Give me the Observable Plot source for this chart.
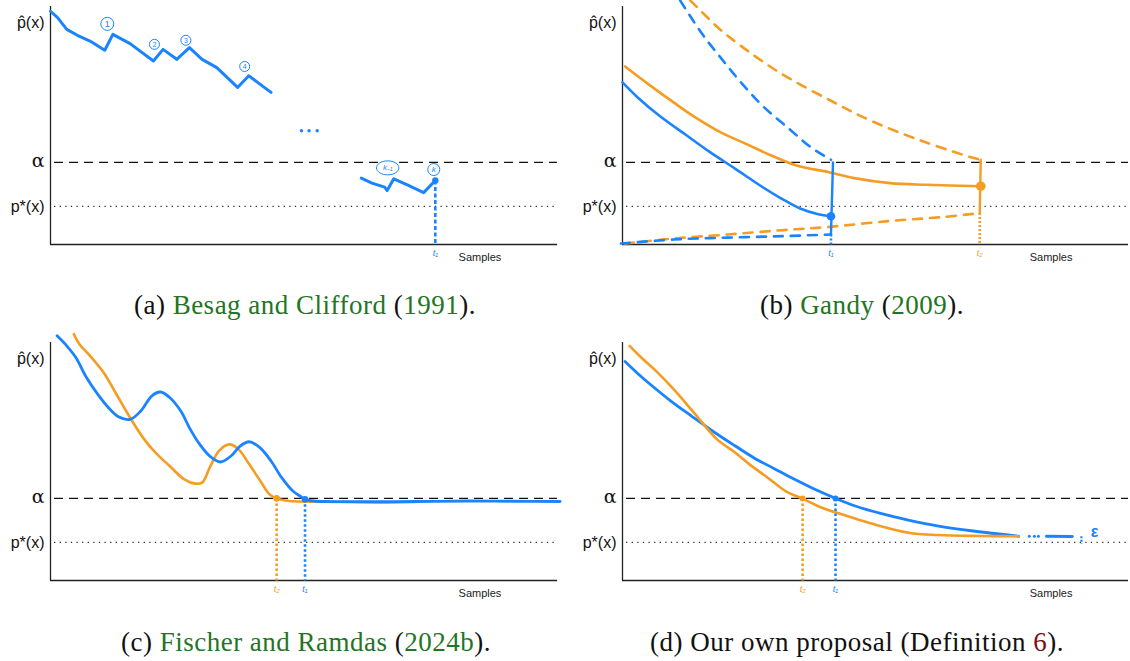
<!DOCTYPE html>
<html><head><meta charset="utf-8">
<script src="https://cdn.jsdelivr.net/npm/d3@7"></script>
<script src="https://cdn.jsdelivr.net/npm/@observablehq/plot@0.6"></script>
<style>
body{margin:0;background:#fff;}
#root{position:relative;width:1130px;height:661px;overflow:hidden;background:#fff;}
.panel{position:absolute;}
.cap{position:absolute;font-family:"Liberation Serif",serif;font-size:27px;letter-spacing:0.5px;white-space:nowrap;transform:translate(-50%,-50%);color:#111;}
.cite{color:#237523;}
.ref{color:#7a1010;}
</style></head><body><div id="root"></div>
<script>
// ---------- data (x: 0..100 along "Samples", y: 0..100 up the p-hat axis) ----------
const alphaLevel = 34.5;
const pStarLevel = 16.0;
const yLabelText = ["p\u0302(x)", "p*(x)"];
const yLabelY = [93, 16.0];
const alphaLabel = "\u03B1";
const samplesX = 84.7;

// (a) Besag and Clifford
const aSeg1 = [[0,98],[1.4,95.3],[3.2,90.4],[5.3,87.9],[7.8,85.5],[10.7,81.6],[12.3,88.3],[15.7,84.4],[20.3,77.1],[22.2,82.0],[24.9,77.8],[27.4,82.7],[29.9,77.8],[32.8,74.3],[36.9,66.0],[39.1,70.9],[41.3,67.4],[43.5,63.9]];
const aSeg2 = [[61.3,27.9],[63.4,25.8],[65.9,24.1],[66.4,22.7],[67.7,27.6],[70.6,24.8],[73.6,21.8],[75.9,26.9]];
const aMarkLabels = ["1","2","3","4"];
const aMarkX = [11.2, 20.5, 26.7, 38.3];
const aMarkY = [92.7, 84.1, 85.8, 74.8];
const aEllipsisX = [49.5, 51.0, 52.6];
const aEllipsisY = 47.8;
const aTagLabels = ["k\u208B\u2081", "k"];
const aTagX = [66.5, 75.6];
const aTagY = [32.2, 31.5];
const aT1 = 75.9, aT1Y = 26.9;

// (b) Gandy
const bBlue = [[0,68.1],[3.0,61.8],[7.3,54.1],[12.3,46.4],[17.3,38.8],[22.3,31.8],[27.2,24.8],[31.5,19.2],[35.1,15.1],[38.7,12.7],[41.1,11.9]];
const bBlueUpper = [[11.4,102.5],[15.8,88.3],[19.4,78.5],[23.7,67.4],[28.0,57.6],[33.0,48.5],[37.2,40.9],[41.2,35.6]];
const bBlueLower = [[-0.3,0.4],[10.1,2.1],[20.8,2.9],[31.5,3.5],[41.2,4.2]];
const bOrange = [[0.5,74.8],[5.1,67.4],[10.1,59.7],[14.4,53.4],[19.4,47.1],[24.4,42.3],[29.4,37.4],[34.4,33.2],[40.8,30.4],[45.8,27.9],[52.9,25.8],[60.1,25.1],[70.8,24.5]];
const bOrangeUpper = [[13.4,102.5],[15.4,98.3],[19.2,90.5],[23.3,83.6],[31.2,72.0],[41.1,60.5],[49.0,52.1],[58.9,43.7],[69.8,36.1],[71.0,35.6]];
const bOrangeLower = [[0.5,0.4],[10.1,2.5],[20.8,4.2],[31.5,6.0],[40.8,7.4],[52.9,9.9],[63.6,11.6],[70.6,13.2]];
const bT1 = 41.2, bT2 = 70.8;

// (c) Fischer and Ramdas
const cBlue = [[1.3,102.8],[3.2,98.6],[5.0,93.7],[7.1,85.3],[9.3,78.3],[11.4,72.7],[13.5,68.7],[15.7,67.7],[17.8,71.2],[20.0,77.6],[21.7,79.2],[23.5,76.9],[25.7,71.2],[27.4,64.2],[29.2,57.9],[31.4,52.3],[33.5,49.8],[35.6,52.3],[37.4,56.5],[39.2,58.3],[41.3,55.8],[43.5,50.2],[45.6,43.2],[47.8,37.6],[49.2,35.5],[50.2,34.1],[52.0,33.4],[61.3,33.1],[72.0,33.2],[82.7,33.4],[91.0,33.3],[100.5,33.2]];
const cOrange = [[4.6,103.5],[5.7,99.3],[7.8,94.4],[10.7,86.7],[12.8,79.0],[15.7,68.4],[18.5,59.3],[20.7,53.7],[23.5,48.1],[26.4,42.5],[28.5,40.7],[29.9,41.1],[31.4,47.4],[33.2,54.4],[35.3,57.2],[37.1,55.1],[39.2,48.8],[41.4,41.8],[43.2,36.2],[44.6,34.5],[47.1,33.4],[54.2,33.1],[64.9,32.7],[72.0,33.0]];
const cT1 = 50.2, cT2 = 44.6;

// (d) Our own proposal
const dBlue = [[0.5,92.0],[3.0,87.0],[6.0,81.5],[9.5,75.5],[13.7,69.0],[18.0,62.5],[22.3,56.5],[26.0,51.5],[30.0,47.0],[34.0,42.5],[38.0,38.3],[42.1,34.5],[46.0,31.3],[51.0,28.2],[56.5,25.4],[62.2,23.0],[69.3,20.8],[78.3,18.6]];
const dOrange = [[1.4,98.6],[3.7,93.7],[6.6,88.1],[10.1,80.4],[14.4,69.8],[18.7,59.3],[22.3,53.7],[25.1,48.8],[28.7,43.2],[32.2,37.6],[35.6,34.4],[39.4,30.6],[44.4,27.1],[49.4,23.8],[56.5,20.1],[62.2,19.1],[70.8,18.7],[78.3,18.6]];
const dT1 = 42.1, dT2 = 35.6;
const dMoreDotsX = [80.4, 81.4, 82.2];
const dMoreY = 18.6;
const dDash = [[83.8,18.6],[88.9,18.5]];
const dEps = {x: 90.7, top: 18.6, bottom: 15.4, labelX: 93.3, labelY: 20.3};

// ---------- styling ----------
const BLUE = "#1a84ff", ORANGE = "#f59c22";
const xy = {x: d => d[0], y: d => d[1]};

const ellipseSymbol = {
  draw(ctx, size) {
    const r = Math.sqrt(size / Math.PI), rx = r * 1.6, ry = r;
    const k = 0.5523;
    ctx.moveTo(rx, 0);
    ctx.bezierCurveTo(rx, ry * k, rx * k, ry, 0, ry);
    ctx.bezierCurveTo(-rx * k, ry, -rx, ry * k, -rx, 0);
    ctx.bezierCurveTo(-rx, -ry * k, -rx * k, -ry, 0, -ry);
    ctx.bezierCurveTo(rx * k, -ry, rx, -ry * k, rx, 0);
    ctx.closePath();
  }
};

function frame() {
  const labels = yLabelText.map((t, i) => ({t, y: yLabelY[i]}));
  return [
    Plot.ruleY([{y: alphaLevel, x1: 0.8, x2: 100}], {y: "y", x1: "x1", x2: "x2", stroke: "#111", strokeWidth: 1.3, strokeDasharray: "9,6"}),
    Plot.ruleY([{y: pStarLevel, x1: 0.8, x2: 100}], {y: "y", x1: "x1", x2: "x2", stroke: "#333", strokeWidth: 1.2, strokeDasharray: "1.3,4.3"}),
    Plot.ruleX([{x: 0, y1: 0, y2: 100}], {x: "x", y1: "y1", y2: "y2", stroke: "#222", strokeWidth: 1.3}),
    Plot.ruleY([{y: 0, x1: 0, x2: 100}], {y: "y", x1: "x1", x2: "x2", stroke: "#222", strokeWidth: 1.3}),
    Plot.text(labels, {x: 0, y: "y", text: "t", dx: -6, textAnchor: "end", fontSize: 16, fill: "#111"}),
    Plot.text([{y: alphaLevel, t: alphaLabel}], {x: 0, y: "y", text: "t", dx: -6, dy: -1, textAnchor: "end", fontSize: 19, fontFamily: "'DejaVu Serif', serif", fill: "#111"}),
    Plot.text([{x: samplesX, t: "Samples"}], {x: "x", y: 0, text: "t", dy: 13, fontSize: 11, fill: "#222"})
  ];
}

function drop(x, y, color, dash) {
  return Plot.line([[x, y], [x, 0]], {...xy, stroke: color, strokeWidth: 2.6, strokeLinecap: "butt", strokeDasharray: dash || "2.5,2.5"});
}
function tLabel(x, txt, color) {
  return Plot.text([{x, t: txt}], {x: "x", y: 0, text: "t", dy: 9, fontSize: 9, fill: color, fontStyle: "italic"});
}

function makePlot(marginLeft, marginRight, marks) {
  return Plot.plot({
    width: 565, height: 275,
    marginLeft, marginRight, marginTop: 6, marginBottom: 31,
    x: {domain: [0, 100], axis: null},
    y: {domain: [0, 100], axis: null},
    style: {background: "transparent", overflow: "visible", fontFamily: "'Liberation Sans', Arial, sans-serif"},
    marks
  });
}

// (a)
const aMarks = aMarkLabels.map((t, i) => ({t, x: aMarkX[i], y: aMarkY[i]}));
const aTags = aTagLabels.map((t, i) => ({t, x: aTagX[i], y: aTagY[i]}));
const plotA = makePlot(50, 8, [
  ...frame(),
  Plot.line(aSeg1, {...xy, stroke: BLUE, strokeWidth: 3, curve: "linear"}),
  Plot.line(aSeg2, {...xy, stroke: BLUE, strokeWidth: 3, curve: "linear"}),
  drop(aT1, aT1Y, BLUE, "4,2.5"),
  Plot.dot([[aT1, aT1Y]], {...xy, r: 3.2, fill: BLUE}),
  Plot.dot(aMarks.slice(0, 1), {x: "x", y: "y", r: 6.5, stroke: BLUE, strokeWidth: 1, fill: "white"}),
  Plot.dot(aMarks.slice(1), {x: "x", y: "y", r: 5, stroke: BLUE, strokeWidth: 1, fill: "white"}),
  Plot.text(aMarks.slice(0, 1), {x: "x", y: "y", text: "t", fontSize: 9, fill: BLUE}),
  Plot.text(aMarks.slice(1), {x: "x", y: "y", text: "t", fontSize: 7, fill: BLUE}),
  Plot.dot(aEllipsisX.map(x => [x, aEllipsisY]), {...xy, r: 1.7, fill: BLUE}),
  Plot.dot(aTags.slice(0, 1), {x: "x", y: "y", r: 7, symbol: ellipseSymbol, stroke: BLUE, strokeWidth: 1, fill: "white"}),
  Plot.dot(aTags.slice(1), {x: "x", y: "y", r: 6, stroke: BLUE, strokeWidth: 1, fill: "white"}),
  Plot.text(aTags, {x: "x", y: "y", text: "t", fontSize: 8, fill: BLUE, fontStyle: "italic"}),
  tLabel(aT1, "t\u2081", BLUE)
]);

const dashed = {strokeWidth: 2.6, strokeDasharray: "9,8", strokeLinecap: "round", curve: "catmull-rom"};
const plotB = makePlot(57, 2, [
  ...frame(),
  Plot.line(bOrangeUpper, {...xy, stroke: ORANGE, ...dashed}),
  Plot.line(bOrangeLower, {...xy, stroke: ORANGE, ...dashed}),
  Plot.line(bBlueUpper, {...xy, stroke: BLUE, ...dashed}),
  Plot.line(bBlueLower, {...xy, stroke: BLUE, ...dashed}),
  Plot.line(bOrange, {...xy, stroke: ORANGE, strokeWidth: 2.6, curve: "catmull-rom"}),
  Plot.line(bBlue, {...xy, stroke: BLUE, strokeWidth: 2.6, curve: "catmull-rom"}),
  Plot.line([[bT1 + 0.4, alphaLevel], [bT1, 4.2]], {...xy, stroke: BLUE, strokeWidth: 2.4}),
  drop(bT1, 4.2, BLUE, "2,2"),
  Plot.line([[bT2, 35.6], [bT2 - 0.2, 13.2]], {...xy, stroke: ORANGE, strokeWidth: 2.4}),
  drop(bT2 - 0.2, 13.2, ORANGE, "2,2"),
  Plot.dot([[bT1, 11.9]], {...xy, r: 4.3, fill: BLUE}),
  Plot.dot([[bT2, 24.5]], {...xy, r: 4.8, fill: ORANGE}),
  tLabel(bT1, "t\u2081", BLUE),
  tLabel(bT2 - 0.2, "t\u2082", ORANGE)
]);

const plotC = makePlot(50, 8, [
  ...frame(),
  Plot.line(cOrange, {...xy, stroke: ORANGE, strokeWidth: 2.6, curve: "catmull-rom"}),
  Plot.line(cBlue, {...xy, stroke: BLUE, strokeWidth: 2.8, curve: "catmull-rom"}),
  drop(cT2, alphaLevel, ORANGE),
  drop(cT1, 34.1, BLUE),
  Plot.dot([[cT2, 34.5]], {...xy, r: 3.3, fill: ORANGE}),
  Plot.dot([[cT1, 34.1]], {...xy, r: 3.3, fill: BLUE}),
  tLabel(cT2, "t\u2082", ORANGE),
  tLabel(cT1, "t\u2081", BLUE)
]);

const plotD = makePlot(57, 2, [
  ...frame(),
  Plot.line(dBlue, {...xy, stroke: BLUE, strokeWidth: 2.8, curve: "catmull-rom"}),
  Plot.line(dOrange, {...xy, stroke: ORANGE, strokeWidth: 2.6, curve: "catmull-rom"}),
  drop(dT2, alphaLevel, ORANGE),
  drop(dT1, alphaLevel, BLUE),
  Plot.dot([[dT2, alphaLevel]], {...xy, r: 3, fill: ORANGE}),
  Plot.dot([[dT1, alphaLevel]], {...xy, r: 3, fill: BLUE}),
  Plot.dot(dMoreDotsX.map(x => [x, dMoreY]), {...xy, r: 1.5, fill: BLUE}),
  Plot.line(dDash, {...xy, stroke: BLUE, strokeWidth: 3}),
  Plot.line([[dEps.x, dEps.top], [dEps.x, dEps.bottom]], {...xy, stroke: BLUE, strokeWidth: 2.2, strokeLinecap: "butt", strokeDasharray: "2,1.5"}),
  Plot.text([{x: dEps.labelX, y: dEps.labelY, t: "\u03B5"}], {x: "x", y: "y", text: "t", fontSize: 16, fontWeight: "bold", fill: BLUE}),
  tLabel(dT2, "t\u2082", ORANGE),
  tLabel(dT1, "t\u2081", BLUE)
]);

const root = document.getElementById("root");
function place(node, left, top) {
  const d = document.createElement("div");
  d.className = "panel";
  d.style.left = left + "px"; d.style.top = top + "px";
  d.appendChild(node);
  root.appendChild(d);
}
place(plotA, 0, 0);
place(plotB, 565, 0);
place(plotC, 0, 336);
place(plotD, 565, 336);

const captions = [
  {x: 305, y: 305, html: '(a) <span class="cite">Besag and Clifford</span> (<span class="cite">1991</span>).'},
  {x: 862, y: 305, html: '(b) <span class="cite">Gandy</span> (<span class="cite">2009</span>).'},
  {x: 306, y: 642, html: '(c) <span class="cite">Fischer and Ramdas</span> (<span class="cite">2024b</span>).'},
  {x: 857, y: 642, html: '(d) Our own proposal (Definition <span class="ref">6</span>).'}
];
for (const c of captions) {
  const d = document.createElement("div");
  d.className = "cap";
  d.style.left = c.x + "px"; d.style.top = c.y + "px";
  d.innerHTML = c.html;
  root.appendChild(d);
}
</script>
</body></html>
